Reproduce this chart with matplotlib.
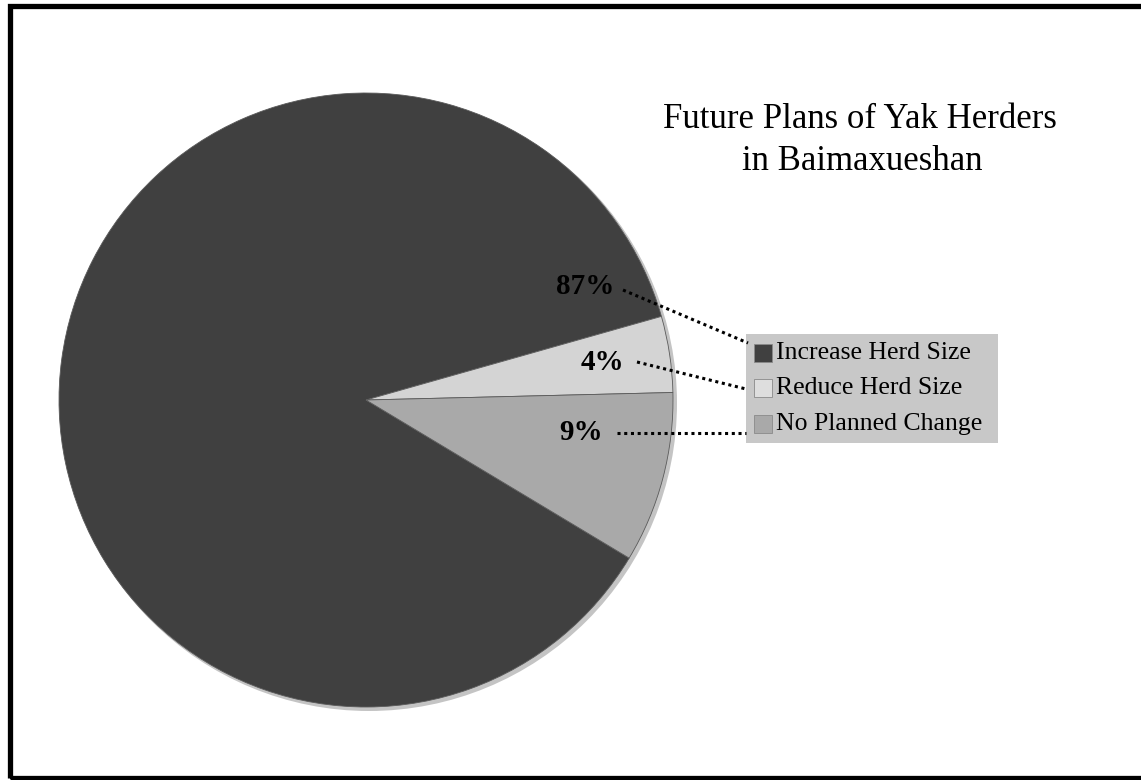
import matplotlib
matplotlib.use("Agg")
import matplotlib.pyplot as plt
from matplotlib.patches import Rectangle, Circle

plans = ["Increase Herd Size", "Reduce Herd Size", "No Planned Change"]
shares = [87, 4, 9]
pct_labels = ["87%", "4%", "9%"]
colors = ["#404040", "#d4d4d4", "#a9a9a9"]
key_colors = ["#404040", "#dedede", "#a9a9a9"]

W, H = 1141, 780
plt.rcParams["font.family"] = ["Liberation Serif", "DejaVu Serif"]

fig = plt.figure(figsize=(W / 100, H / 100), dpi=100)
ax = fig.add_axes([0, 0, 1, 1])

def py(y):
    # pixel rows counted from the top
    return H - y

cx, cy, r = 366, py(400), 307

# soft drop shadow under the pie
ax.add_patch(Circle((cx + 3, cy - 3), r + 1, facecolor="#c4c4c4",
                    edgecolor="none", zorder=1))

wedges, _ = ax.pie(shares, colors=colors, startangle=-31, counterclock=False,
                   center=(cx, cy), radius=r, frame=True,
                   wedgeprops=dict(edgecolor="#5a5a5a", linewidth=0.6, zorder=2))
ax.set_xlim(0, W)
ax.set_ylim(0, H)
ax.set_aspect("equal")
ax.axis("off")

# outer frame
ax.add_patch(Rectangle((9.5, py(777.5)), W + 20, 771.5, fill=False,
                       edgecolor="black", linewidth=3.8, zorder=10))

ax.text(860, py(120), "Future Plans of Yak Herders", ha="center", va="center",
        fontsize=25)
ax.text(862, py(161), "in Baimaxueshan", ha="center", va="center", fontsize=25)

# legend box
ax.add_patch(Rectangle((746, py(443)), 252, 109, facecolor="#c8c8c8",
                       edgecolor="none", zorder=3))
rows = [353, 388, 424]
for name, c, yy in zip(plans, key_colors, rows):
    ax.add_patch(Rectangle((754, py(yy) - 9), 18, 18, facecolor=c,
                           edgecolor="#8a8a8a", linewidth=0.6, zorder=4))
    ax.text(776, py(yy), name, ha="left", va="center", fontsize=18.5, zorder=5)

# percentage labels and dotted leaders
label_pos = [(614, 287), (624, 362), (603, 433)]
leaders = [((623, 290), (748, 343)), ((637, 362), (746, 389)), ((617, 433), (746, 433))]
for txt, (lx, ly), (p0, p1) in zip(pct_labels, label_pos, leaders):
    ax.text(lx, py(ly), txt, ha="right", va="center", fontsize=21,
            fontweight="bold", zorder=5)
    ax.plot([p0[0], p1[0]], [py(p0[1]), py(p1[1])], color="black",
            linewidth=2.2, linestyle=(0, (1, 1.2)), zorder=5)

fig.savefig("out.png", dpi=100, facecolor="white")
